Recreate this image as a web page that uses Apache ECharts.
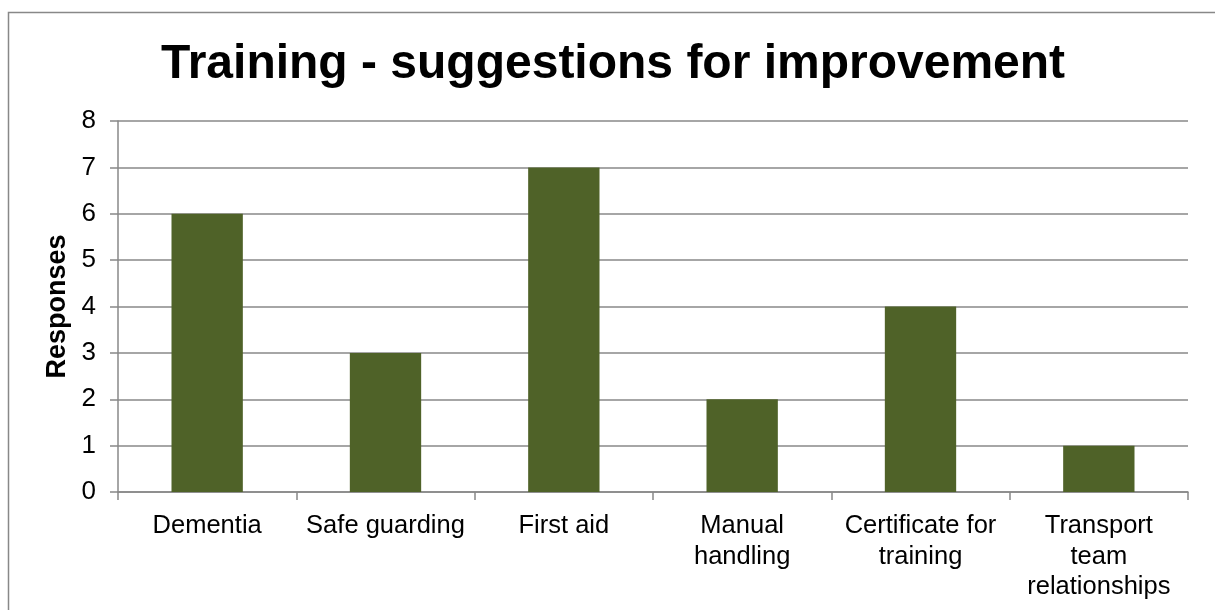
<!DOCTYPE html>
<html>
<head>
<meta charset="utf-8">
<script src="https://cdn.jsdelivr.net/npm/echarts@6/dist/echarts.min.js"></script>
<style>
  html, body { margin: 0; padding: 0; background: #fff; }
  #chart { width: 1215px; height: 610px; }
</style>
</head>
<body>
<div id="chart"></div>
<script>
// Survey answers: which training topics staff would like improved
const categories = [
  'Dementia',
  'Safe guarding',
  'First aid',
  'Manual\nhandling',
  'Certificate for\ntraining',
  'Transport\nteam\nrelationships'
];
const responses = [6, 3, 7, 2, 4, 1];
const yTicks = { min: 0, max: 8, interval: 1 };

const FONT = '"Liberation Sans", Arial, sans-serif';
const GREY = '#888888';

const chart = echarts.init(document.getElementById('chart'), null, { renderer: 'canvas' });

chart.setOption({
  backgroundColor: '#ffffff',
  animation: false,
  textStyle: { fontFamily: FONT },
  graphic: [{
    type: 'rect',
    shape: { x: 8.5, y: 12.5, width: 1400, height: 800 },
    style: { fill: 'none', stroke: GREY, lineWidth: 1.5 },
    silent: true
  }],
  title: {
    text: 'Training - suggestions for improvement',
    left: 156,
    top: 36,
    textStyle: { fontFamily: FONT, fontSize: 48, fontWeight: 'bold', color: '#000' }
  },
  grid: { left: 118, right: 27, top: 121, bottom: 118, containLabel: false },
  xAxis: {
    type: 'category',
    data: categories,
    axisLine: { lineStyle: { color: GREY, width: 1.5 } },
    axisTick: { show: true, alignWithLabel: false, length: 8, lineStyle: { color: GREY, width: 1.5 } },
    axisLabel: {
      interval: 0,
      color: '#000',
      fontFamily: FONT,
      fontSize: 25.5,
      lineHeight: 30.5,
      margin: 19
    }
  },
  yAxis: {
    type: 'value',
    min: yTicks.min,
    max: yTicks.max,
    interval: yTicks.interval,
    name: 'Responses',
    nameLocation: 'middle',
    nameRotate: 90,
    nameGap: 44,
    nameTextStyle: { fontFamily: FONT, fontSize: 27, fontWeight: 'bold', color: '#000' },
    axisLine: { show: true, lineStyle: { color: GREY, width: 1.5 } },
    axisTick: { show: true, length: 8, lineStyle: { color: GREY, width: 1.5 } },
    axisLabel: { color: '#000', fontFamily: FONT, fontSize: 26, margin: 22 },
    splitLine: { show: true, lineStyle: { color: GREY, width: 1.5 } }
  },
  series: [{
    type: 'bar',
    data: responses,
    barWidth: '40%',
    itemStyle: { color: '#4F6228' }
  }]
});
</script>
</body>
</html>
